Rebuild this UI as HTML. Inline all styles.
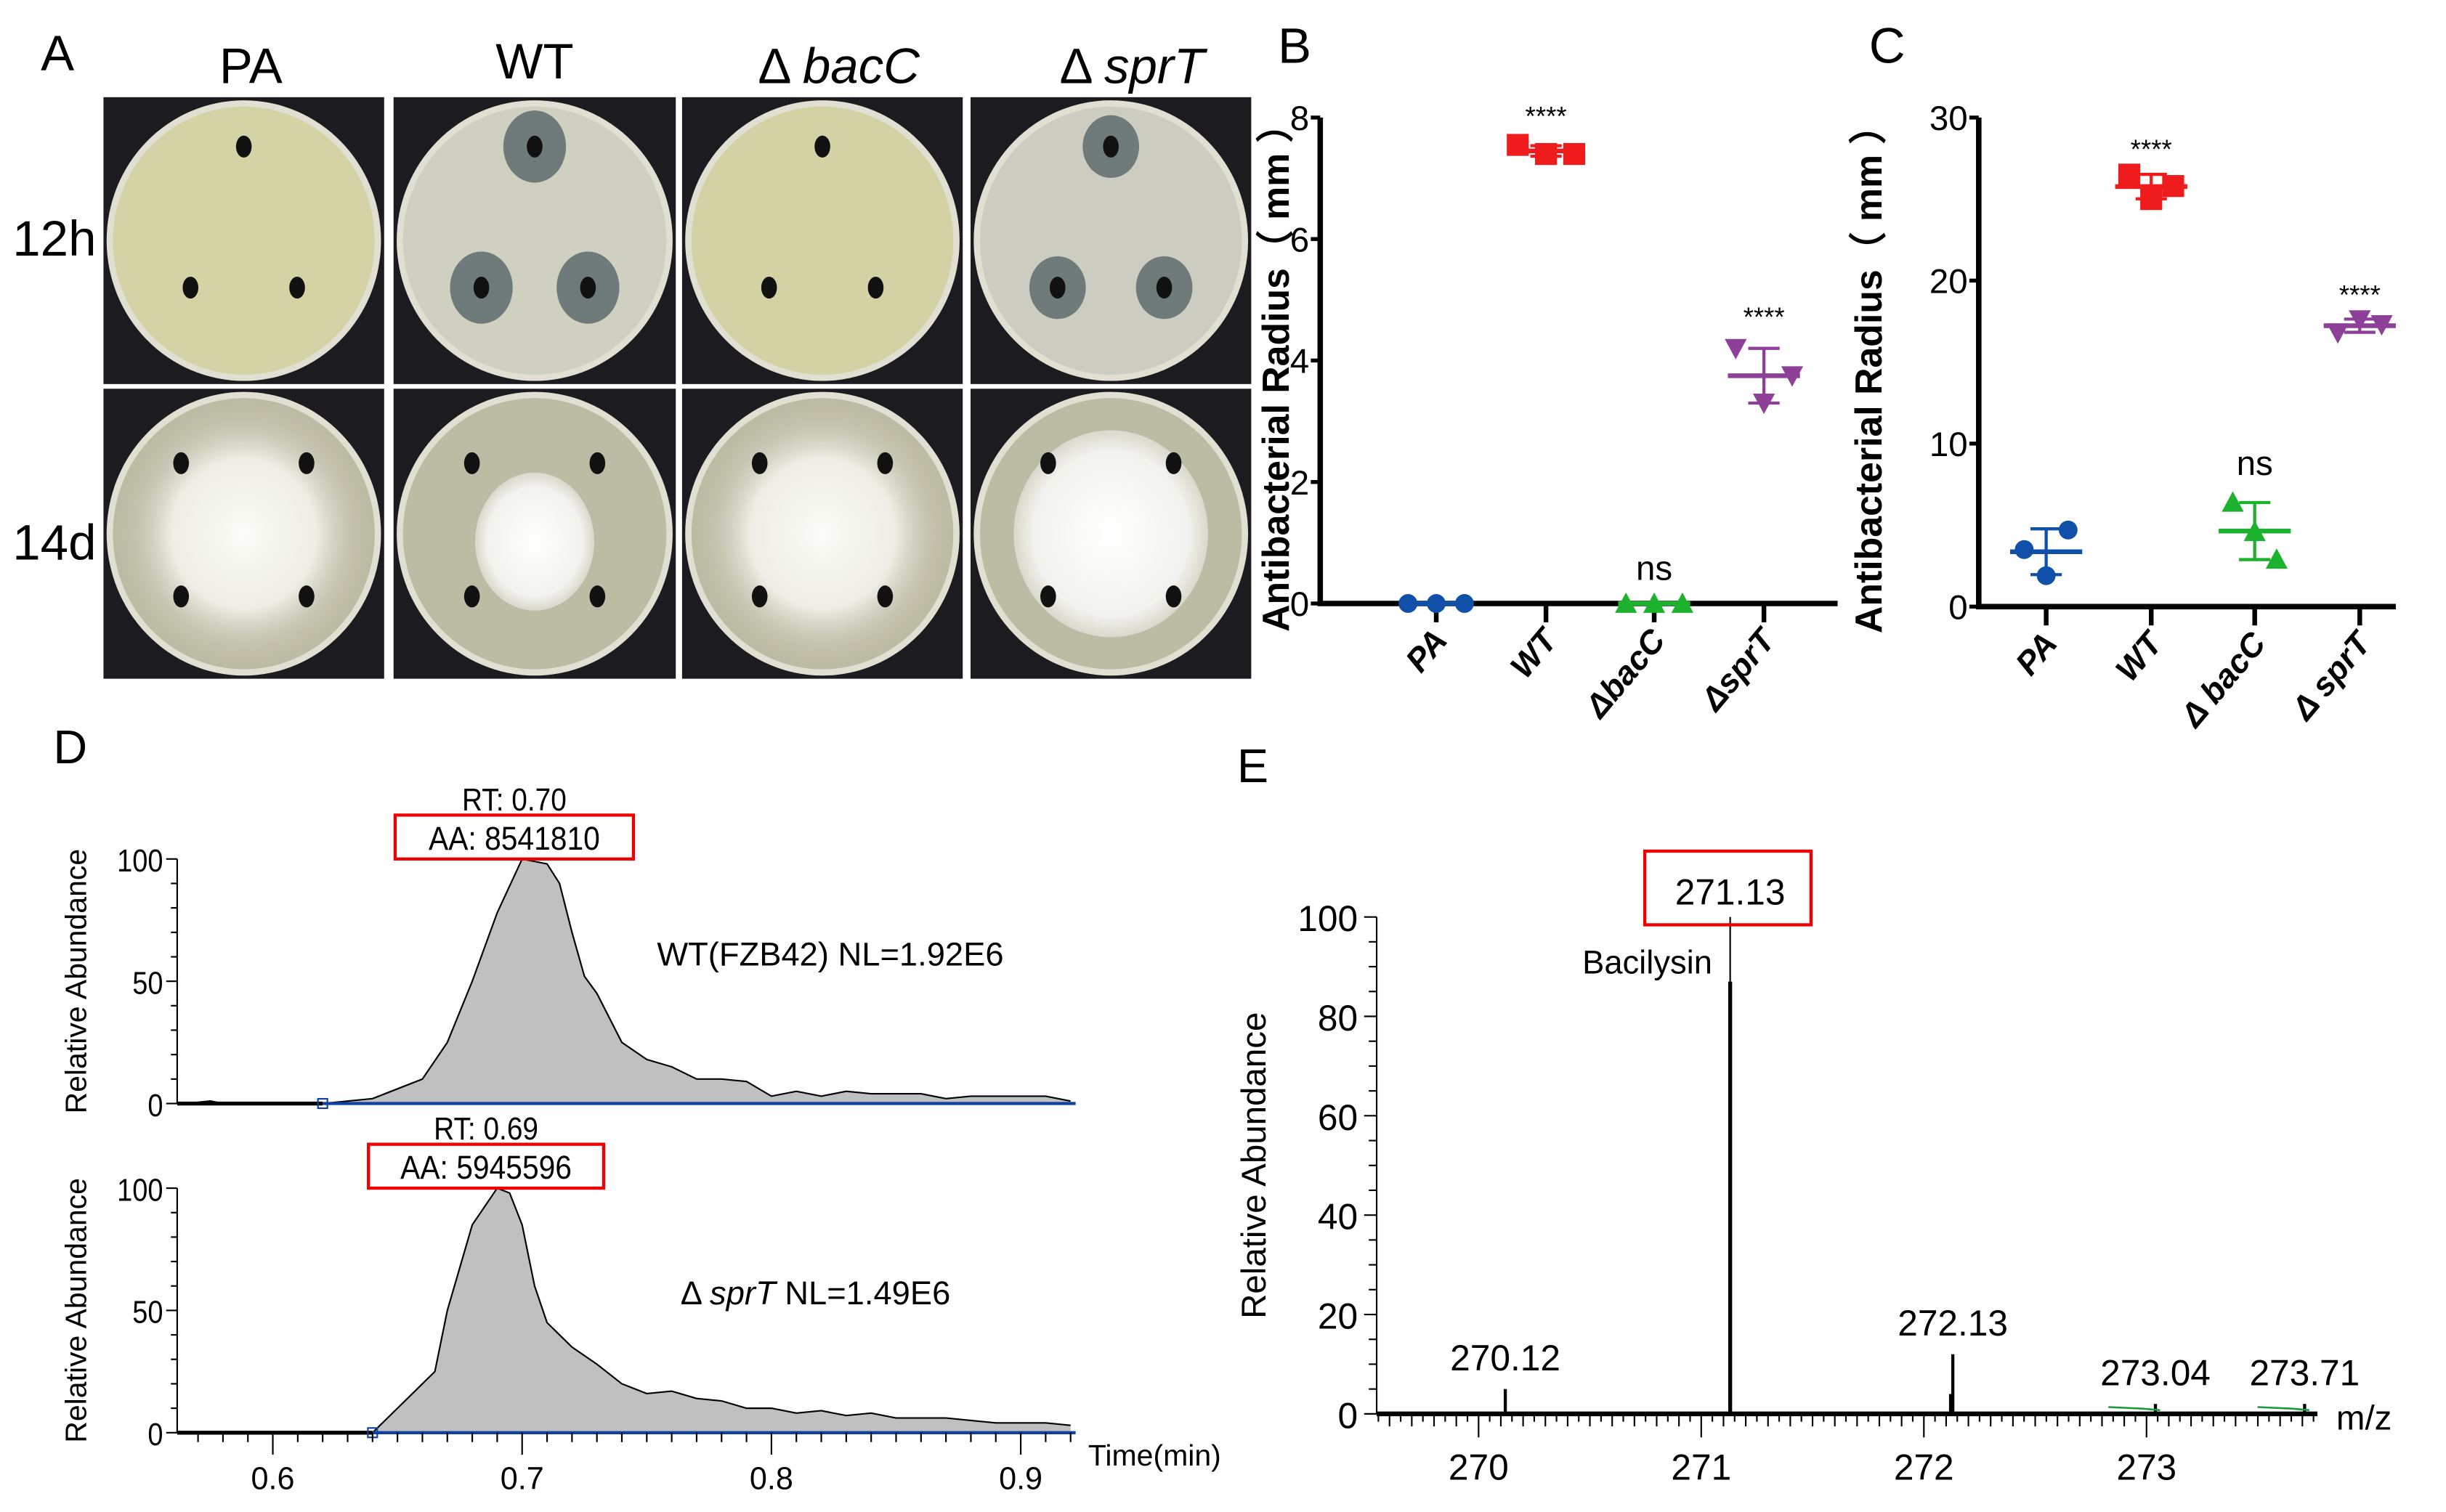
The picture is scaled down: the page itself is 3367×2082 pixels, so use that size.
<!DOCTYPE html>
<html><head><meta charset="utf-8"><style>
html,body{margin:0;padding:0;background:#fff}
svg{display:block}
text{font-family:"Liberation Sans",sans-serif}
</style></head><body>
<svg id="fig" width="3367" height="2082" viewBox="0 0 1560 964.6" preserveAspectRatio="none" xmlns="http://www.w3.org/2000/svg">
<defs>
<radialGradient id="myc" cx="50%" cy="50%" r="50%"><stop offset="0" stop-color="#fbfbf8"/><stop offset="0.55" stop-color="#eeeee6"/><stop offset="1" stop-color="#bdbba5" stop-opacity="0"/></radialGradient>
<radialGradient id="myc2" cx="50%" cy="50%" r="50%"><stop offset="0" stop-color="#ffffff"/><stop offset="0.8" stop-color="#f2f2ee"/><stop offset="1" stop-color="#d8d8cc"/></radialGradient>
</defs>
<g id="panelA">
<text x="26" y="45" font-size="32">A</text>
<text x="160" y="53" font-size="32" text-anchor="middle">PA</text>
<text x="341" y="50" font-size="32" text-anchor="middle">WT</text>
<text x="535" y="53" font-size="32" text-anchor="middle">Δ <tspan font-style="italic">bacC</tspan></text>
<text x="722" y="53" font-size="32" text-anchor="middle">Δ <tspan font-style="italic">sprT</tspan></text>
<text x="8" y="163" font-size="32">12h</text>
<text x="8" y="357" font-size="32">14d</text>
</g>
<g id="B"></g>
<g id="C"></g>
<g id="D"></g>
<g id="E"></g>
</svg>
<script>
// ---------- Panel B data ----------
const bCats=["PA","WT","ΔbacC","ΔsprT"];
const bPA=[0,0,0], bWT=[7.55,7.4,7.4], bBacC=[0,0,0], bSprT=[4.2,3.3,3.75];
const bTicks=[0,2,4,6,8];
// ---------- Panel C data ----------
const cCats=["PA","WT","Δ bacC","Δ sprT"];
const cPA=[3.5,1.9,4.7], cWT=[26.5,25.0,25.8], cBacC=[6.4,4.6,2.9], cSprT=[16.8,17.6,17.3];
const cTicks=[0,10,20,30];
// ---------- Panel D data ----------
const dTimeTop=[0.565,0.575,0.58,0.62,0.63,0.64,0.65,0.66,0.67,0.68,0.69,0.70,0.71,0.715,0.72,0.725,0.73,0.74,0.75,0.76,0.77,0.78,0.79,0.80,0.81,0.82,0.83,0.84,0.85,0.86,0.87,0.88,0.89,0.90,0.91,0.92];
const dValTop=[0,1,0,0,1,2,6,10,25,50,78,100,98,90,70,52,45,25,18,15,10,10,9,3,5,3,5,4,4,4,2,3,3,3,3,1];
const dTimeBot=[0.64,0.65,0.66,0.665,0.67,0.68,0.69,0.695,0.70,0.705,0.71,0.72,0.73,0.74,0.75,0.76,0.77,0.78,0.79,0.80,0.81,0.82,0.83,0.84,0.85,0.86,0.87,0.88,0.89,0.90,0.91,0.92];
const dValBot=[0,10,20,25,50,85,100,98,85,60,45,35,28,20,16,17,14,13,10,10,8,9,7,8,6,6,6,5,4,4,4,3];
const dXTicks=[0.6,0.7,0.8,0.9];
const dYTicks=[0,50,100];
// ---------- Panel E data ----------
const eMz=[270.12,271.13,272.12,272.13,273.04,273.71];
const eAbund=[5,87,4,12,2,2];
const eLabels=["270.12","271.13","","272.13","273.04","273.71"];
const eXTicks=[270,271,272,273];
const eYTicks=[0,20,40,60,80,100];

const NS="http://www.w3.org/2000/svg";
function mk(parent,tag,attrs,txt){const e=document.createElementNS(NS,tag);for(const k in attrs)e.setAttribute(k,attrs[k]);if(txt!==undefined)e.textContent=txt;parent.appendChild(e);return e;}

// ---------- Panel A photos ----------
(function(){
const A=document.getElementById('panelA');
const cols=[[66,245],[251,431],[435,614],[619,798]];
const rows=[[62,245],[248,433]];
const zones=[false,true,false,true];
const col12=["#d4d3a6","#cfd0c0","#d3d2a4","#cccdc0"];
rows.forEach((r,ri)=>cols.forEach((c,ci)=>{
  const g=mk(A,'g',{});
  
  
  mk(g,'rect',{x:c[0],y:r[0],width:c[1]-c[0],height:r[1]-r[0],fill:'#1c1c20'});
  const cx=(c[0]+c[1])/2, cy=(r[0]+r[1])/2, rx=(c[1]-c[0])/2-2, ry=(r[1]-r[0])/2-2;
  mk(g,'ellipse',{cx:cx,cy:cy,rx:rx,ry:ry,fill:'#e0dfd2'});
  if(ri===0){
    mk(g,'ellipse',{cx:cx,cy:cy,rx:rx-4,ry:ry-4,fill:col12[ci]});
    const holes=[[cx,cy-60],[cx-34,cy+30],[cx+34,cy+30]];
    holes.forEach(h=>{
      if(zones[ci]) mk(g,'ellipse',{cx:h[0],cy:h[1],rx:ci===1?20:18,ry:ci===1?23:20,fill:'#6f7b7a'});
      mk(g,'ellipse',{cx:h[0],cy:h[1],rx:5,ry:7,fill:'#111'});
    });
  } else {
    mk(g,'ellipse',{cx:cx,cy:cy,rx:rx-4,ry:ry-4,fill:'#bcbba4'});
    if(ci===1) mk(g,'ellipse',{cx:cx,cy:cy+5,rx:38,ry:44,fill:'url(#myc2)'});
    else if(ci===3) mk(g,'ellipse',{cx:cx,cy:cy,rx:62,ry:66,fill:'url(#myc2)'});
    else mk(g,'ellipse',{cx:cx,cy:cy,rx:rx-4,ry:ry-4,fill:'url(#myc)'});
    const holes=[[cx-40,cy-45],[cx+40,cy-45],[cx-40,cy+40],[cx+40,cy+40]];
    holes.forEach(h=>mk(g,'ellipse',{cx:h[0],cy:h[1],rx:5,ry:7,fill:'#111'}));
  }
}));
})();

// ---------- scatter chart helper ----------
function scatter(id,opt){
  const G=document.getElementById(id);
  const ys=v=>opt.y0-(v-0)*(opt.y0-opt.yTop)/opt.yMax;
  const xs=i=>opt.xs[i];
  mk(G,'text',{x:opt.lx,y:40,'font-size':32},opt.letter);
  const ax=mk(G,'path',{d:`M${opt.ax},${opt.yTop}V${opt.y0}H${opt.xEnd}`,stroke:'#000','stroke-width':3.5,fill:'none'});
  
  
  opt.ticks.forEach(t=>{
    mk(G,'line',{x1:opt.ax-6,x2:opt.ax,y1:ys(t),y2:ys(t),stroke:'#000','stroke-width':2.5});
    const tl=mk(G,'text',{x:opt.ax-7,y:ys(t)+8,'font-size':22,'text-anchor':'end'},String(t));
    
    
  });
  const yt=mk(G,'text',{transform:`translate(${opt.ax-opt.titleOff},${(opt.yTop+opt.y0)/2+5}) rotate(-90)`,'font-size':24,'font-weight':'bold','text-anchor':'middle'},'Antibacterial Radius（ mm ）');
  
  
  opt.cats.forEach((c,i)=>{
    mk(G,'line',{x1:xs(i),x2:xs(i),y1:opt.y0,y2:opt.y0+12,stroke:'#000','stroke-width':3});
    const t=mk(G,'text',{transform:`translate(${xs(i)+8},${opt.y0+24}) rotate(-50)`,'font-size':21,'font-weight':'bold','font-style':'italic','text-anchor':'end'});
    t.textContent=c;
    
    
  });
  opt.series.forEach((s,i)=>{
    const g=mk(G,'g',{});
    
    
    const v=s.vals, m=v.reduce((a,b)=>a+b,0)/v.length;
    const sd=Math.sqrt(v.reduce((a,b)=>a+(b-m)*(b-m),0)/(v.length-1));
    const x=xs(i);
    if(sd>0){
      mk(g,'line',{x1:x,x2:x,y1:ys(m-sd),y2:ys(m+sd),stroke:s.col,'stroke-width':2});
      [m-sd,m+sd].forEach(e=>mk(g,'line',{x1:x-10,x2:x+10,y1:ys(e),y2:ys(e),stroke:s.col,'stroke-width':2}));
    }
    mk(g,'line',{x1:x-23,x2:x+23,y1:ys(m),y2:ys(m),stroke:s.col,'stroke-width':3});
    v.forEach((val,k)=>{
      const px=x+(k-1)*opt.jit, py=ys(val);
      let p;
      if(s.shape==='circle') p=mk(g,'circle',{cx:px,cy:py,r:6,fill:s.col});
      else if(s.shape==='square') p=mk(g,'rect',{x:px-7,y:py-7,width:14,height:14,fill:s.col});
      else if(s.shape==='tri') p=mk(g,'path',{d:`M${px-7},${py+6}L${px+7},${py+6}L${px},${py-7}Z`,fill:s.col});
      else p=mk(g,'path',{d:`M${px-7},${py-6}L${px+7},${py-6}L${px},${py+7}Z`,fill:s.col});
      
      
    });
    if(s.lab){const ty=s.labY!==undefined?s.labY:ys(Math.max(...v))-14;mk(g,'text',{x:x,y:ty,'font-size':s.lab==='ns'?22:17,'text-anchor':'middle'},s.lab);}
  });
}
scatter('B',{letter:'B',lx:815,ax:842,titleOff:20,yTop:75,y0:385,yMax:8,xEnd:1172,ticks:bTicks,cats:bCats,xs:[916,986,1055,1125],jit:18,
 series:[{vals:bPA,col:'#1150a8',shape:'circle'},{vals:bWT,col:'#ee1c1c',shape:'square',lab:'****',labY:80},{vals:bBacC,col:'#1db22d',shape:'tri',lab:'ns',labY:370},{vals:bSprT,col:'#8e3f98',shape:'itri',lab:'****',labY:208}]});
scatter('C',{letter:'C',lx:1192,ax:1262,titleOff:62,yTop:75,y0:387,yMax:30,xEnd:1528,ticks:cTicks,cats:cCats,xs:[1305,1372,1438,1505],jit:14,
 series:[{vals:cPA,col:'#1150a8',shape:'circle'},{vals:cWT,col:'#ee1c1c',shape:'square',lab:'****',labY:101},{vals:cBacC,col:'#1db22d',shape:'tri',lab:'ns',labY:303},{vals:cSprT,col:'#8e3f98',shape:'itri',lab:'****',labY:194}]});

// ---------- Panel D ----------
(function(){
const G=document.getElementById('D');
const tx=t=>174+(t-0.6)*1590;
mk(G,'text',{x:34,y:487,'font-size':30},'D');
function chrom(times,vals,y100,y0,rt,aa,lab,italic,labY,boxX,boxW,startT){
  const ys=v=>y0-v*(y0-y100)/100;
  let d=`M${tx(startT)},${y0}`;
  times.forEach((t,i)=>{if(t>=startT)d+=`L${tx(t)},${ys(vals[i])}`;});
  d+=`L${tx(times[times.length-1])},${y0}Z`;
  const a=mk(G,'path',{d:d,fill:'#c0c0c0',stroke:'none'});
  
  
  let ld='';times.forEach((t,i)=>{ld+=(i?'L':'M')+tx(t)+','+ys(vals[i]);});
  const l=mk(G,'path',{d:ld,fill:'none',stroke:'#000','stroke-width':1});
  
  
  mk(G,'line',{x1:113,x2:tx(startT),y1:y0,y2:y0,stroke:'#000','stroke-width':2.5});
  mk(G,'line',{x1:tx(startT),x2:686,y1:y0,y2:y0,stroke:'#1040a0','stroke-width':2});
  mk(G,'rect',{x:tx(startT)-3,y:y0-3,width:6,height:6,fill:'none',stroke:'#1040a0','stroke-width':1});
  mk(G,'line',{x1:113,x2:113,y1:y100,y2:y0,stroke:'#000','stroke-width':1});
  for(let v=0;v<=100;v+=10){mk(G,'line',{x1:v%50===0?106:109,x2:113,y1:ys(v),y2:ys(v),stroke:'#000','stroke-width':1});}
  dYTicks.forEach(v=>mk(G,'text',{x:104,y:ys(v)+8,'font-size':20,'text-anchor':'end',transform:`translate(${104*0.12},0) scale(0.88,1)`},String(v)));
  mk(G,'text',{transform:`translate(55,${(y100+y0)/2}) rotate(-90)`,'font-size':19,'text-anchor':'middle'},'Relative Abundance');
  mk(G,'text',{x:boxX+boxW/2,y:y100-31,'font-size':20,'text-anchor':'middle',transform:`translate(${(boxX+boxW/2)*0.1},0) scale(0.9,1)`},rt);
  const b=mk(G,'rect',{x:boxX,y:y100-28,width:boxW,height:28,fill:'none',stroke:'#e00','stroke-width':2});
  
  
  mk(G,'text',{x:boxX+boxW/2,y:y100-6,'font-size':21,'text-anchor':'middle',transform:`translate(${(boxX+boxW/2)*0.1},0) scale(0.9,1)`},aa);
  const t=mk(G,'text',{x:labY[0],y:labY[1],'font-size':21});
  if(italic){mk(t,'tspan',{},'Δ ');mk(t,'tspan',{'font-style':'italic'},'sprT');mk(t,'tspan',{},'  NL=1.49E6');}
  else t.textContent=lab;
}
chrom(dTimeTop,dValTop,548,704,'RT: 0.70','AA: 8541810','WT(FZB42)  NL=1.92E6',false,[419,616],252,152,0.62);
chrom(dTimeBot,dValBot,758,914,'RT: 0.69','AA: 5945596','',true,[434,832],235,150,0.64);
for(let t=0.57;t<=0.921;t+=0.01){const x=tx(t);const maj=Math.abs(t*10-Math.round(t*10))<0.001;mk(G,'line',{x1:x,x2:x,y1:914,y2:maj?928:920,stroke:'#000','stroke-width':1});}
dXTicks.forEach(t=>{const tl=mk(G,'text',{x:tx(t),y:950,'font-size':20,'text-anchor':'middle'},String(t));});
mk(G,'text',{x:694,y:935,'font-size':19},'Time(min)');
})();

// ---------- Panel E ----------
(function(){
const G=document.getElementById('E');
const xs=m=>943+(m-270)*142, ys=v=>902-v*3.17;
mk(G,'text',{x:789,y:499,'font-size':30},'E');
mk(G,'line',{x1:878,x2:878,y1:ys(100),y2:902,stroke:'#000','stroke-width':1});
mk(G,'line',{x1:878,x2:1478,y1:902,y2:902,stroke:'#000','stroke-width':3});
for(let v=0;v<=100;v+=5)mk(G,'line',{x1:v%20===0?870:873,x2:878,y1:ys(v),y2:ys(v),stroke:'#000','stroke-width':1});
eYTicks.forEach(v=>{const t=mk(G,'text',{x:866,y:ys(v)+9,'font-size':23,'text-anchor':'end'},String(v));});
mk(G,'text',{transform:`translate(807,${ys(50)}) rotate(-90)`,'font-size':22,'text-anchor':'middle'},'Relative Abundance');
for(let m=269.55;m<=273.76;m+=0.05){const x=xs(m);const maj=Math.abs(m-Math.round(m))<0.001;const mid=Math.abs(m*10-Math.round(m*10))<0.001;mk(G,'line',{x1:x,x2:x,y1:902,y2:maj?917:(mid?910:907),stroke:'#000','stroke-width':1});}
eXTicks.forEach(m=>{const t=mk(G,'text',{x:xs(m),y:944,'font-size':23,'text-anchor':'middle'},String(m));});
mk(G,'text',{x:1490,y:912,'font-size':22},'m/z');
eMz.forEach((m,i)=>{
  const p=mk(G,'line',{x1:xs(m),x2:xs(m),y1:902,y2:ys(eAbund[i]),stroke:'#000','stroke-width':i===1?2.5:2});
  
  
  if(eLabels[i]){const lt=mk(G,'text',{x:xs(m),y:ys(eAbund[i])-(i===1?0:12),'font-size':23,'text-anchor':'middle'},eLabels[i]);
    if(i===1){lt.setAttribute('y',ys(100)-8);}
    if(i>=4){mk(G,'path',{d:`M${xs(m)-30},${ys(eAbund[i])+2}L${xs(m)-8},${ys(eAbund[i])+3}L${xs(m)+3},${ys(eAbund[i])+4}`,stroke:'#1a9a3a','stroke-width':1.2,fill:'none'});}
  }
});
mk(G,'line',{x1:xs(271.13),x2:xs(271.13),y1:ys(100),y2:ys(87),stroke:'#000','stroke-width':1});
const bx=mk(G,'rect',{x:1049,y:543,width:106,height:47,fill:'none',stroke:'#e00','stroke-width':2});


mk(G,'text',{x:1092,y:621,'font-size':21,'text-anchor':'end'},'Bacilysin');
})();
</script>
</body></html>
